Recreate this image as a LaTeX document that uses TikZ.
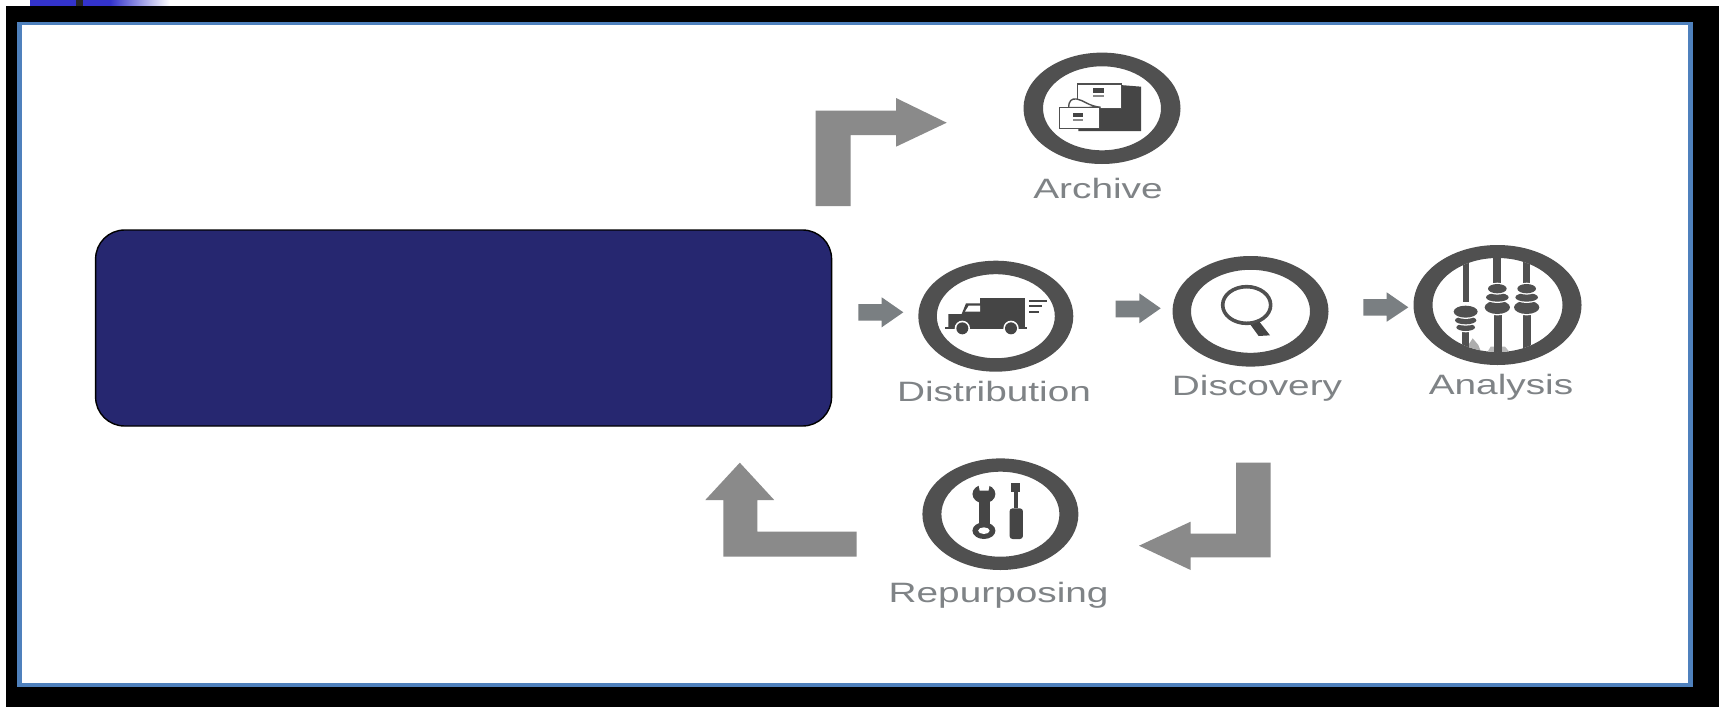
\documentclass[tikz,border=0pt]{standalone}
\usepackage{graphicx}
\usepackage{fontspec}
\setmainfont{Liberation Sans}
\definecolor{ringc}{HTML}{505050}
\definecolor{iconc}{HTML}{454545}
\definecolor{bendc}{HTML}{8A8A8A}
\definecolor{smallc}{HTML}{7A7F82}
\definecolor{textc}{HTML}{7F8386}
\definecolor{navyc}{HTML}{262770}
\definecolor{framec}{HTML}{4F81BD}
\definecolor{stripc}{HTML}{3333CC}
\tikzset{
  ringfill/.style={fill=ringc,even odd rule},
  bendarrow/.style={fill=bendc},
  smallarrow/.style={fill=smallc},
  steplabel/.style={anchor=base,inner sep=0pt,text=textc,font=\fontsize{28}{30}\selectfont},
  icon/.style={fill=iconc},
  iconwhite/.style={fill=white},
}
\newcommand{\ringshape}[6]{\fill[ringfill] (#1,#2) ellipse [x radius=#3,y radius=#4] (#1,#2) ellipse [x radius=#5,y radius=#6];}
\newcommand{\wide}[1]{\scalebox{1.385}[1]{#1}}
\begin{document}
\begin{tikzpicture}[x=1pt,y=-1pt]
\useasboundingbox (0,0) rectangle (1719,707);
% top strip and frame
\fill[white] (0,0) rectangle (1719,707);
\fill[stripc] (30,0) rectangle (110,6);
\fill[black!85] (76,0) rectangle (83,6);
\shade[left color=stripc,right color=white] (110,0) rectangle (170,6);
\fill[black] (6,6) rectangle (1719,707);
\fill[framec] (17.3,21.7) rectangle (1692.7,686.7);
\fill[white] (21.7,25) rectangle (1688.3,683.3);
% blue box
\node[draw=black,fill=navyc,line width=1.4pt,rounded corners=29pt,minimum width=736pt,minimum height=196pt,inner sep=0pt] (box) at (463.6,328) {};
% bent arrows
\fill[bendarrow] (815.7,206) -- (815.7,110.7) -- (896,110.7) -- (896,98) -- (946.7,122.7) -- (896,146.7) -- (896,135) -- (850.7,135) -- (850.7,206) -- cycle;
\fill[bendarrow] (739.8,462.7) -- (774.2,500) -- (757.4,500) -- (757.4,531.7) -- (856.5,531.7) -- (856.5,556.7) -- (723.3,556.7) -- (723.3,500) -- (705.3,500) -- cycle;
\fill[bendarrow] (1236,462.7) -- (1270.5,462.7) -- (1270.5,557.3) -- (1190.6,557.3) -- (1190.6,570) -- (1139,545.7) -- (1190.6,521.7) -- (1190.6,533.7) -- (1236,533.7) -- cycle;
% small arrows
\fill[smallarrow] (858.3,304) -- (881.7,304) -- (881.7,297.3) -- (903.3,312.3) -- (881.7,327.3) -- (881.7,320.7) -- (858.3,320.7) -- cycle;
\fill[smallarrow] (1115.7,300.7) -- (1139.3,300.7) -- (1139.3,293.3) -- (1160.7,308.3) -- (1139.3,323.3) -- (1139.3,317.3) -- (1115.7,317.3) -- cycle;
\fill[smallarrow] (1363.3,299) -- (1386.7,299) -- (1386.7,292.3) -- (1408.3,307.3) -- (1386.7,321.7) -- (1386.7,315.7) -- (1363.3,315.7) -- cycle;
% rings
\ringshape{1102}{108.3}{78.5}{55.7}{59}{42}
\ringshape{995.8}{316.2}{77.5}{55.5}{59}{42}
\ringshape{1250.5}{311.3}{78}{55.3}{59.5}{41.5}
\ringshape{1497.5}{305}{84}{60}{65}{47}
\ringshape{1000.4}{514.2}{78}{55.8}{59}{42.5}
% archive icon (crop units)
\begin{scope}[shift={(980,30)},scale=0.33333]
\fill[icon] (420,165) -- (483,170) -- (483,303) -- (295,303) -- (295,285) -- (358,285) -- (358,235) -- (420,235) -- cycle;
\draw[ringc,line width=1.4pt,fill=white] (292,162) rectangle (425,235);
\draw[ringc,line width=1.4pt,fill=white] (266,233) .. controls (266,212) and (275,205) .. (290,207) .. controls (310,210) and (325,228) .. (362,232) -- cycle;
\draw[ringc,line width=1.4pt,fill=white] (238,233) rectangle (358,295);
\fill[icon] (340,175) rectangle (372,190);
\fill[bendc] (340,196) rectangle (372,202);
\fill[icon] (280,248) rectangle (310,262);
\fill[bendc] (280,268) rectangle (310,273);
\end{scope}
% truck icon
\begin{scope}[shift={(840,240)},scale=0.33333]
\fill[icon] (420,173) rectangle (555,264);
\fill[icon] (325,264) -- (325,222) -- (365,222) -- (378,190) -- (425,190) -- (425,264) -- cycle;
\fill[iconwhite] (375,215) -- (386,197) -- (420,197) -- (420,215) -- cycle;
\fill[icon] (315,260) rectangle (560,266);
\fill[iconwhite] (367,265) circle [radius=23];
\fill[iconwhite] (513,265) circle [radius=23];
\fill[icon] (367,265) circle [radius=18];
\fill[icon] (513,265) circle [radius=18];
\fill[icon] (568,181) rectangle (622,186);
\fill[icon] (568,196) rectangle (606,201);
\fill[icon] (568,213) rectangle (596,218);
\end{scope}
% magnifier and abacus
\begin{scope}[shift={(1100,230)},scale=0.33333]
\draw[ringc,line width=3.6pt] (440,225) ellipse [x radius=72,y radius=55];
\fill[icon] (452,285) -- (478,275) -- (510,316) -- (476,318) -- cycle;
\begin{scope}
\clip (1192.5,225) ellipse [x radius=195,y radius=141];
\fill[bendc!70] (1105,345) -- (1118,325) -- (1135,345) -- (1145,370) -- (1100,370) -- cycle;
\fill[bendc!60] (1160,370) -- (1172,350) -- (1215,350) -- (1232,370) -- cycle;
\fill[ringc] (1088,100) rectangle (1107,215);
\fill[ringc] (1086,285) rectangle (1108,360);
\fill[ringc] (1180,70) rectangle (1203,160);
\fill[ringc] (1181,240) rectangle (1205,380);
\fill[ringc] (1268,80) rectangle (1289,160);
\fill[ringc] (1268,240) rectangle (1292,370);
\foreach \bx/\by/\bw/\bh in {1097/292/28/11,1097/271/32/12,1097/245/36/18,1192/232/38/20,1192/202/34/13,1192/176/28/14,1280/232/38/20,1280/202/34/13,1280/176/28/14}{
  \fill[iconwhite] (\bx,\by) ellipse [x radius=\bw+2,y radius=\bh+4];
  \fill[ringc] (\bx,\by) ellipse [x radius=\bw,y radius=\bh];
}
\end{scope}
\end{scope}
% tools
\begin{scope}[shift={(690,440)},xscale=0.3827,yscale=0.33333]
\fill[icon] (840,130) rectangle (862,155);
\fill[icon] (846,155) rectangle (857,205);
\fill[icon,rounded corners=3pt] (835,205) rectangle (870,297);
\fill[icon] (768,162) ellipse [x radius=30,y radius=28];
\fill[iconwhite] (753,128) -- (784,128) -- (780,152) -- (757,152) -- cycle;
\fill[icon] (755,180) rectangle (783,258);
\fill[icon] (768,272) ellipse [x radius=30,y radius=25];
\fill[iconwhite] (768,272) ellipse [x radius=15,y radius=10];
\end{scope}
% labels
\node[steplabel] (archive) at (1098,198.5) {\wide{Archive}};
\node[steplabel] (distribution) at (994,401) {\wide{Distribution}};
\node[steplabel] (discovery) at (1257,395.5) {\wide{Discovery}};
\node[steplabel] (analysis) at (1501,394.8) {\wide{Analysis}};
\node[steplabel] (repurposing) at (998.6,602.8) {\wide{Repurposing}};
\end{tikzpicture}
\end{document}
